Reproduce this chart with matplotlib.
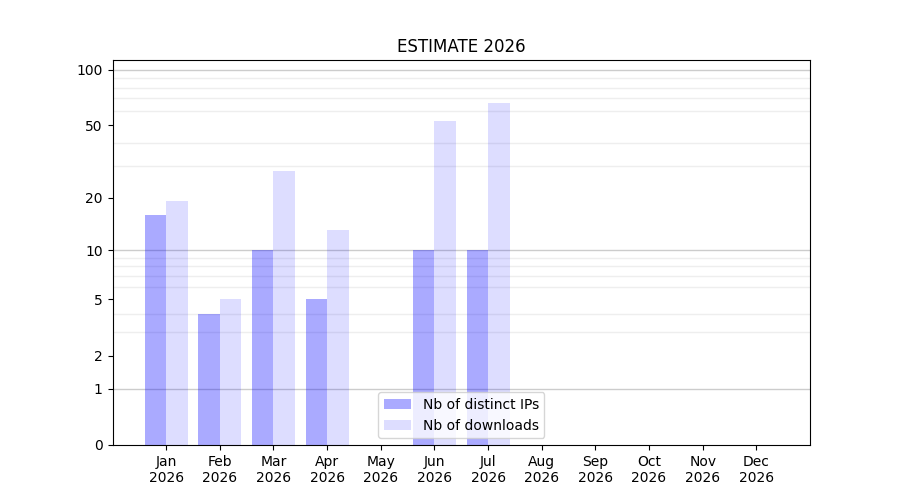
import numpy as np
import matplotlib
matplotlib.use("Agg")
import matplotlib.pyplot as plt

months = ['Jan', 'Feb', 'Mar', 'Apr', 'May', 'Jun',
          'Jul', 'Aug', 'Sep', 'Oct', 'Nov', 'Dec']
year = '2026'
distinct_ips = [16, 4, 10, 5, 0, 10, 10, 0, 0, 0, 0, 0]
downloads = [19, 5, 28, 13, 0, 53, 66, 0, 0, 0, 0, 0]

yticks = [0, 1, 2, 5, 10, 20, 50, 100]
minor_grid = [2, 3, 4, 5, 6, 7, 8, 9, 20, 30, 40, 50, 60, 70, 80, 90]
major_grid = [1, 10, 100]


def fwd(y):
    return np.log10(1 + np.clip(y, 0, None))


def inv(y):
    return 10 ** y - 1


fig = plt.figure(figsize=(9, 5), dpi=100)
ax = fig.add_subplot(111)

x = np.arange(len(months))
w = 0.4
ax.bar(x - w / 2, distinct_ips, w, color='blue', alpha=1 / 3, label='Nb of distinct IPs', zorder=2)
ax.bar(x + w / 2, downloads, w, color='blue', alpha=0.135, label='Nb of downloads', zorder=2)

ax.set_yscale('function', functions=(fwd, inv))
ax.set_ylim(0, 113)
ax.set_xlim(-1, 12)

ax.set_yticks(yticks)
ax.set_yticklabels([str(t) for t in yticks])
ax.set_yticks(minor_grid, minor=True)
ax.tick_params(axis='y', which='minor', length=0)
ax.grid(axis='y', which='minor', color='#eeeeee', lw=1, zorder=0)
for g in major_grid:
    ax.axhline(g, color='#cccccc', lw=1, zorder=1)

ax.set_xticks(x)
ax.set_xticklabels([m + '\n' + year for m in months])

ax.set_title('ESTIMATE ' + year)
ax.legend(loc='lower center')

fig.savefig('out.png')
